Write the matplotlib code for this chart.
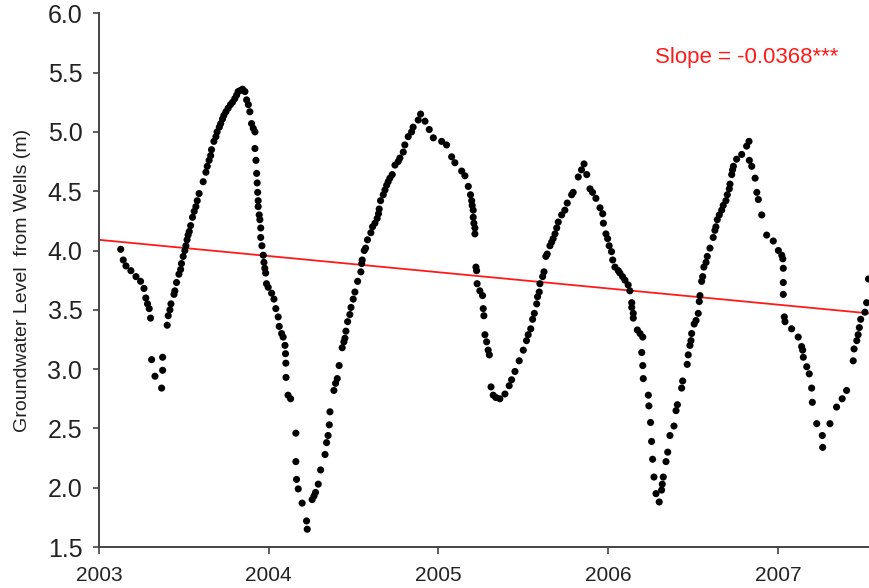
import numpy as np
import matplotlib
matplotlib.use("Agg")
import matplotlib.pyplot as plt

#----------
# Data (decimal year, groundwater level in m) in 5 chunks
t_part1 = [2003.128, 2003.143, 2003.159, 2003.188, 2003.218, 2003.245, 2003.265, 2003.276, 2003.286, 2003.296,
           2003.304, 2003.310, 2003.330, 2003.369, 2003.375, 2003.375, 2003.402, 2003.408, 2003.418, 2003.424,
           2003.442, 2003.447, 2003.457, 2003.471, 2003.481, 2003.486, 2003.496, 2003.506, 2003.512, 2003.519,
           2003.525, 2003.532, 2003.540, 2003.551, 2003.561, 2003.571, 2003.579, 2003.590, 2003.614, 2003.630,
           2003.638, 2003.649, 2003.658, 2003.663, 2003.677, 2003.689, 2003.696, 2003.709, 2003.717, 2003.728,
           2003.736, 2003.748, 2003.761, 2003.775, 2003.787, 2003.800, 2003.811, 2003.820, 2003.834, 2003.846,
           2003.860, 2003.870, 2003.880, 2003.889, 2003.899, 2003.909, 2003.919, 2003.919, 2003.925, 2003.929,
           2003.932, 2003.935, 2003.938, 2003.938, 2003.944, 2003.948, 2003.953, 2003.953, 2003.960, 2003.968,
           2003.972, 2003.977, 2003.982, 2003.987]
gw_part1 = [4.01, 3.92, 3.87, 3.83, 3.78, 3.74, 3.68, 3.60, 3.55, 3.51,
            3.43, 3.08, 2.94, 2.84, 2.99, 3.10, 3.37, 3.45, 3.50, 3.55,
            3.63, 3.66, 3.73, 3.80, 3.84, 3.89, 3.95, 4.00, 4.04, 4.09,
            4.13, 4.16, 4.21, 4.28, 4.33, 4.37, 4.42, 4.48, 4.58, 4.66,
            4.71, 4.76, 4.80, 4.85, 4.92, 4.96, 5.00, 5.04, 5.07, 5.11,
            5.14, 5.17, 5.20, 5.23, 5.25, 5.28, 5.31, 5.34, 5.35, 5.36,
            5.34, 5.27, 5.23, 5.17, 5.07, 5.03, 5.00, 4.86, 4.76, 4.65,
            4.57, 4.49, 4.42, 4.37, 4.30, 4.26, 4.19, 4.11, 4.04, 3.96,
            3.90, 3.85, 3.81, 3.72]

t_part2 = [2003.997, 2004.017, 2004.031, 2004.042, 2004.056, 2004.062, 2004.076, 2004.085, 2004.096, 2004.099,
           2004.101, 2004.102, 2004.114, 2004.129, 2004.160, 2004.160, 2004.164, 2004.174, 2004.197, 2004.223,
           2004.227, 2004.256, 2004.267, 2004.276, 2004.292, 2004.306, 2004.332, 2004.341, 2004.350, 2004.357,
           2004.361, 2004.384, 2004.394, 2004.404, 2004.415, 2004.433, 2004.443, 2004.449, 2004.455, 2004.465,
           2004.478, 2004.485, 2004.498, 2004.508, 2004.524, 2004.543, 2004.548, 2004.551, 2004.563, 2004.571,
           2004.582, 2004.602, 2004.612, 2004.626, 2004.639, 2004.647, 2004.651, 2004.659, 2004.675, 2004.685,
           2004.695, 2004.704, 2004.714, 2004.728, 2004.744, 2004.763, 2004.773, 2004.793, 2004.802, 2004.822,
           2004.842, 2004.851, 2004.881]
gw_part2 = [3.69, 3.64, 3.59, 3.51, 3.44, 3.36, 3.30, 3.27, 3.20, 3.13,
            3.05, 2.93, 2.78, 2.75, 2.46, 2.22, 2.07, 1.99, 1.87, 1.72,
            1.65, 1.90, 1.93, 1.96, 2.03, 2.15, 2.28, 2.38, 2.44, 2.53,
            2.64, 2.82, 2.88, 2.92, 3.03, 3.18, 3.23, 3.26, 3.32, 3.40,
            3.46, 3.52, 3.59, 3.65, 3.74, 3.82, 3.89, 3.92, 4.00, 4.02,
            4.09, 4.15, 4.20, 4.23, 4.27, 4.31, 4.35, 4.42, 4.47, 4.51,
            4.55, 4.58, 4.61, 4.64, 4.72, 4.75, 4.78, 4.83, 4.89, 4.96,
            5.00, 5.04, 5.10]

t_part3 = [2004.895, 2004.921, 2004.946, 2004.970, 2005.019, 2005.048, 2005.078, 2005.097, 2005.137, 2005.156,
           2005.176, 2005.189, 2005.196, 2005.199, 2005.205, 2005.205, 2005.209, 2005.215, 2005.215, 2005.221,
           2005.225, 2005.228, 2005.244, 2005.260, 2005.264, 2005.268, 2005.274, 2005.284, 2005.293, 2005.300,
           2005.310, 2005.323, 2005.339, 2005.362, 2005.392, 2005.417, 2005.431, 2005.451, 2005.476, 2005.500,
           2005.519, 2005.529, 2005.544, 2005.555, 2005.565, 2005.579, 2005.584, 2005.594, 2005.598, 2005.614,
           2005.622, 2005.633, 2005.641, 2005.657, 2005.667, 2005.676, 2005.687, 2005.697, 2005.706, 2005.726,
           2005.745, 2005.759]
gw_part3 = [5.15, 5.09, 5.02, 4.95, 4.92, 4.89, 4.79, 4.74, 4.67, 4.63,
            4.54, 4.47, 4.42, 4.38, 4.34, 4.28, 4.23, 4.19, 4.14, 3.86,
            3.83, 3.72, 3.66, 3.62, 3.51, 3.45, 3.29, 3.23, 3.16, 3.12,
            2.85, 2.78, 2.76, 2.75, 2.79, 2.86, 2.91, 2.98, 3.07, 3.16,
            3.24, 3.29, 3.34, 3.42, 3.47, 3.55, 3.61, 3.65, 3.72, 3.78,
            3.82, 3.95, 3.97, 4.04, 4.07, 4.10, 4.14, 4.19, 4.24, 4.30,
            4.34, 4.40]

t_part4 = [2005.785, 2005.794, 2005.824, 2005.843, 2005.858, 2005.874, 2005.893, 2005.908, 2005.928, 2005.952,
           2005.968, 2005.972, 2005.987, 2005.997, 2006.006, 2006.020, 2006.027, 2006.040, 2006.060, 2006.069,
           2006.085, 2006.099, 2006.118, 2006.128, 2006.139, 2006.139, 2006.148, 2006.148, 2006.172, 2006.188,
           2006.204, 2006.198, 2006.204, 2006.207, 2006.237, 2006.240, 2006.250, 2006.256, 2006.262, 2006.270,
           2006.282, 2006.301, 2006.315, 2006.319, 2006.325, 2006.341, 2006.351, 2006.364, 2006.388, 2006.400,
           2006.408, 2006.433, 2006.439, 2006.466, 2006.472, 2006.482, 2006.488, 2006.492, 2006.507, 2006.518,
           2006.531, 2006.537, 2006.541, 2006.551, 2006.557, 2006.564, 2006.577, 2006.584, 2006.600, 2006.619,
           2006.629, 2006.635, 2006.643, 2006.655]
gw_part4 = [4.47, 4.49, 4.62, 4.68, 4.73, 4.64, 4.52, 4.49, 4.44, 4.36,
            4.31, 4.23, 4.14, 4.10, 4.04, 3.99, 3.92, 3.86, 3.83, 3.81,
            3.78, 3.75, 3.71, 3.66, 3.56, 3.52, 3.47, 3.43, 3.33, 3.30,
            3.27, 3.14, 3.03, 2.92, 2.78, 2.69, 2.55, 2.39, 2.24, 2.09,
            1.95, 1.88, 1.98, 2.03, 2.09, 2.22, 2.30, 2.44, 2.52, 2.65,
            2.70, 2.84, 2.90, 3.04, 3.12, 3.20, 3.24, 3.30, 3.38, 3.41,
            3.47, 3.57, 3.62, 3.74, 3.78, 3.86, 3.90, 3.95, 4.02, 4.11,
            4.17, 4.20, 4.26, 4.30]

t_part5 = [2006.669, 2006.678, 2006.694, 2006.702, 2006.714, 2006.718, 2006.728, 2006.733, 2006.738, 2006.757,
           2006.787, 2006.816, 2006.830, 2006.832, 2006.846, 2006.866, 2006.876, 2006.885, 2006.905, 2006.934,
           2006.973, 2007.003, 2007.023, 2007.029, 2007.032, 2007.032, 2007.032, 2007.038, 2007.042, 2007.081,
           2007.120, 2007.140, 2007.146, 2007.150, 2007.170, 2007.185, 2007.199, 2007.203, 2007.229, 2007.262,
           2007.264, 2007.307, 2007.346, 2007.379, 2007.405, 2007.444, 2007.449, 2007.465, 2007.473, 2007.480,
           2007.488, 2007.513, 2007.523, 2007.534]
gw_part5 = [4.34, 4.38, 4.42, 4.47, 4.52, 4.56, 4.64, 4.68, 4.71, 4.77,
            4.81, 4.88, 4.92, 4.76, 4.71, 4.61, 4.49, 4.43, 4.30, 4.13,
            4.08, 4.00, 3.96, 3.93, 3.85, 3.73, 3.63, 3.44, 3.40, 3.34,
            3.27, 3.19, 3.16, 3.10, 3.02, 2.96, 2.84, 2.72, 2.54, 2.44,
            2.34, 2.54, 2.68, 2.75, 2.82, 3.07, 3.17, 3.24, 3.29, 3.35,
            3.42, 3.48, 3.56, 3.76]

# trend line, level at axis start / end
trend_levels = [4.09, 3.47]
slope_label = "Slope = -0.0368***"

years = [2003, 2004, 2005, 2006, 2007]
x_start, x_end = 2003.0, 2007.537
#----------

plt.rcParams['font.family'] = ['Liberation Sans Narrow', 'Liberation Sans', 'DejaVu Sans']

t_all = np.concatenate([t_part1, t_part2, t_part3, t_part4, t_part5])
gw_all = np.concatenate([gw_part1, gw_part2, gw_part3, gw_part4, gw_part5])

fig = plt.figure(figsize=(8.69, 5.88), dpi=100)
ax = fig.add_axes([0.1139, 0.0697, 0.8861, 0.9077])

ax.plot([x_start, x_end], trend_levels, color='#ff1a1a', lw=1.3, zorder=2)
ax.scatter(t_all, gw_all, s=26, color='black', edgecolors='none', zorder=3)

ax.set_xlim(x_start, x_end)
ax.set_ylim(1.5, 6.0)
ax.set_yticks(np.arange(1.5, 6.01, 0.5))
ax.set_yticklabels([f"{v:.1f}" for v in np.arange(1.5, 6.01, 0.5)])
ax.set_xticks(years)
ax.set_xticklabels([str(y) for y in years])

for side in ['top', 'right']:
    ax.spines[side].set_visible(False)
for side in ['left', 'bottom']:
    ax.spines[side].set_color('#444444')
    ax.spines[side].set_linewidth(1.4)

ax.tick_params(axis='y', direction='out', length=4, width=1.2, color='#444444',
               labelsize=18, labelcolor='#222222', pad=8)
ax.tick_params(axis='x', direction='out', length=5, width=1.2, color='#444444',
               labelsize=15, labelcolor='#222222', pad=9)

ax.set_ylabel("Groundwater Level  from Wells (m)", fontsize=14, color='#222222', labelpad=12)

ax.text(0.8416, 0.918, slope_label, transform=ax.transAxes, color='#ff1a1a',
        fontsize=16, ha='center', va='center')

fig.savefig("out.png", dpi=100)
